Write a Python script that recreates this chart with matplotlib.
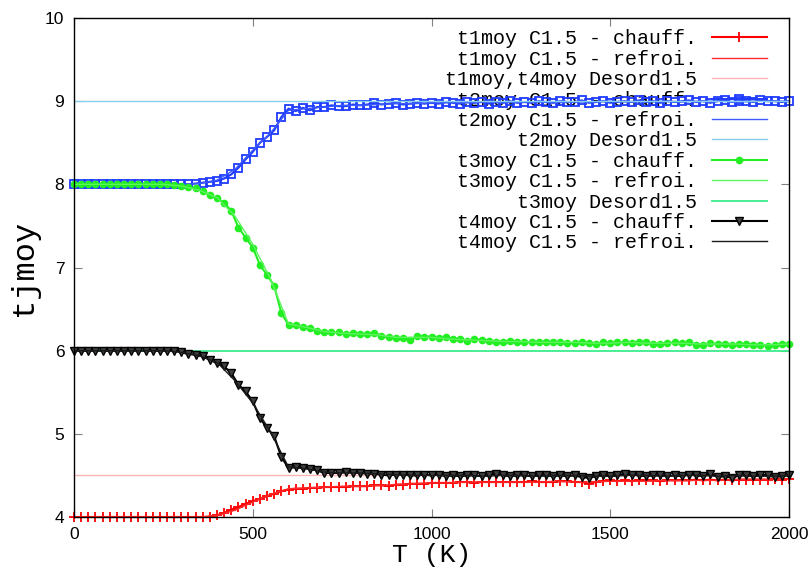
import numpy as np
import matplotlib
matplotlib.use("Agg")
import matplotlib.pyplot as plt
from matplotlib.font_manager import FontProperties

# temperature grids (heating sampled every 20 K, cooling every 50 K)
T_heat = np.arange(0, 2001, 20)
T_cool = np.arange(0, 2001, 50)

# heating runs (chauff.)
t1_chauff = [4.00] * 19 + [
    4.00, 4.02, 4.05, 4.09, 4.12, 4.16, 4.19, 4.22, 4.25, 4.28,
    4.31, 4.33, 4.34, 4.34, 4.35, 4.35, 4.36, 4.36, 4.36, 4.36,
    4.37, 4.37, 4.37, 4.38, 4.38, 4.37, 4.39, 4.39, 4.40, 4.40,
    4.40, 4.41, 4.41, 4.41, 4.41, 4.42, 4.42, 4.41, 4.42, 4.42,
    4.42, 4.42, 4.42, 4.42, 4.42, 4.43, 4.42, 4.42, 4.42, 4.43,
    4.43, 4.42, 4.42, 4.40, 4.42, 4.43, 4.44, 4.43, 4.44, 4.43,
    4.44, 4.44, 4.44, 4.43, 4.44, 4.44, 4.44, 4.44, 4.45, 4.44,
    4.45, 4.44, 4.45, 4.44, 4.45, 4.45, 4.45, 4.45, 4.45, 4.46,
    4.45, 4.46]

t2_chauff = [8.00] * 16 + [
    8.00, 8.01, 8.02, 8.03, 8.04, 8.07, 8.12, 8.20, 8.30, 8.39,
    8.50, 8.57, 8.65, 8.81, 8.91, 8.88, 8.92, 8.89, 8.93, 8.93,
    8.95, 8.94, 8.94, 8.96, 8.95, 8.96, 8.98, 8.96, 8.97, 8.98,
    8.96, 8.97, 8.98, 8.97, 8.98, 8.97, 8.99, 8.98, 8.97, 8.99,
    8.98, 8.99, 8.97, 8.99, 8.98, 9.00, 8.98, 8.99, 8.98, 9.00,
    8.99, 8.98, 9.00, 8.99, 8.99, 9.01, 8.98, 8.99, 9.00, 8.98,
    8.99, 9.00, 8.99, 9.01, 8.99, 9.00, 8.98, 9.00, 8.99, 9.00,
    9.01, 8.99, 9.00, 8.98, 9.00, 9.01, 8.99, 9.00, 9.00, 8.99,
    9.01, 9.00, 9.00, 8.99, 9.00]

t3_chauff = [8.00] * 14 + [
    7.99, 7.98, 7.97, 7.95, 7.92, 7.87, 7.83, 7.78, 7.68, 7.48,
    7.36, 7.24, 7.03, 6.91, 6.78, 6.45, 6.31, 6.31, 6.29, 6.27,
    6.24, 6.23, 6.22, 6.22, 6.20, 6.21, 6.20, 6.20, 6.21, 6.18,
    6.16, 6.15, 6.15, 6.13, 6.18, 6.17, 6.17, 6.15, 6.16, 6.14,
    6.14, 6.12, 6.14, 6.13, 6.12, 6.10, 6.11, 6.12, 6.11, 6.10,
    6.10, 6.10, 6.11, 6.10, 6.10, 6.09, 6.09, 6.10, 6.09, 6.08,
    6.10, 6.09, 6.10, 6.10, 6.09, 6.10, 6.11, 6.08, 6.08, 6.09,
    6.10, 6.09, 6.10, 6.07, 6.07, 6.09, 6.08, 6.08, 6.07, 6.08,
    6.08, 6.07, 6.07, 6.06, 6.07, 6.08, 6.08]

t4_chauff = [6.00] * 15 + [
    5.98, 5.96, 5.95, 5.93, 5.89, 5.85, 5.81, 5.73, 5.59, 5.51,
    5.39, 5.19, 5.07, 4.97, 4.72, 4.59, 4.60, 4.59, 4.58, 4.56,
    4.53, 4.53, 4.53, 4.54, 4.53, 4.53, 4.52, 4.52, 4.51, 4.50,
    4.51, 4.51, 4.50, 4.50, 4.51, 4.50, 4.51, 4.49, 4.50, 4.49,
    4.50, 4.50, 4.49, 4.50, 4.52, 4.50, 4.49, 4.50, 4.50, 4.49,
    4.50, 4.50, 4.49, 4.50, 4.49, 4.50, 4.48, 4.47, 4.49, 4.50,
    4.49, 4.50, 4.52, 4.51, 4.50, 4.49, 4.50, 4.50, 4.49, 4.50,
    4.49, 4.51, 4.50, 4.49, 4.52, 4.48, 4.49, 4.47, 4.50, 4.50,
    4.49, 4.51, 4.50, 4.48, 4.49, 4.50]

# cooling runs (refroi.)
t1_refroi = [4.00] * 8 + [
    4.02, 4.08, 4.18, 4.27, 4.34, 4.35, 4.36, 4.37, 4.37, 4.38,
    4.39, 4.40, 4.41, 4.41, 4.42, 4.42, 4.42, 4.42, 4.42, 4.43,
    4.42, 4.42, 4.43, 4.43, 4.43, 4.44, 4.44, 4.44, 4.44, 4.45,
    4.45, 4.45, 4.46]
t2_refroi = [8.00] * 7 + [
    8.01, 8.05, 8.18, 8.41, 8.62, 8.89, 8.91, 8.93, 8.95, 8.95,
    8.96, 8.97, 8.97, 8.98, 8.98, 8.98, 8.99, 8.98, 8.99, 8.99,
    8.98, 8.99, 8.99, 9.00, 8.99, 8.99, 9.00, 8.99, 9.00, 9.00,
    8.99, 9.00, 9.00, 9.00]
t3_refroi = [8.00] * 6 + [
    7.98, 7.93, 7.84, 7.62, 7.28, 6.86, 6.32, 6.28, 6.23, 6.21,
    6.20, 6.19, 6.16, 6.16, 6.16, 6.14, 6.13, 6.12, 6.11, 6.11,
    6.10, 6.10, 6.10, 6.09, 6.09, 6.10, 6.09, 6.09, 6.09, 6.08,
    6.08, 6.08, 6.07, 6.07, 6.08]
t4_refroi = [6.00] * 6 + [
    5.98, 5.94, 5.86, 5.64, 5.37, 5.02, 4.60, 4.58, 4.54, 4.53,
    4.53, 4.52, 4.51, 4.50, 4.50, 4.50, 4.50, 4.49, 4.50, 4.50,
    4.49, 4.50, 4.50, 4.49, 4.49, 4.50, 4.50, 4.49, 4.50, 4.50,
    4.49, 4.50, 4.49, 4.49, 4.50]

# disordered reference values
T_desord = [0, 2000]
t14_desord = 4.5
t2_desord = 9.0
t3_desord = 6.0

labels = ["t1moy C1.5 - chauff.", "t1moy C1.5 - refroi.", "t1moy,t4moy Desord1.5",
          "t2moy C1.5 - chauff.", "t2moy C1.5 - refroi.", "t2moy Desord1.5",
          "t3moy C1.5 - chauff.", "t3moy C1.5 - refroi.", "t3moy Desord1.5",
          "t4moy C1.5 - chauff.", "t4moy C1.5 - refroi."]
width = max(len(s) for s in labels)
labels = [s.rjust(width) for s in labels]   # right aligned like gnuplot keys

mono = "Liberation Mono"
sans = "Liberation Sans"

fig = plt.figure(figsize=(8.08, 5.70), dpi=100)
ax = fig.add_axes([0.0916, 0.093, 0.8849, 0.8754])

h = []
h += ax.plot(T_heat, t1_chauff, color="#ff0000", lw=1.5, marker="+", ms=7, mew=1.3, clip_on=False)
h += ax.plot(T_cool, t1_refroi, color="#ff2a2a", lw=1.0)
h += ax.plot(T_desord, [t14_desord] * 2, color="#ffb4b4", lw=1.0)
h += ax.plot(T_heat, t2_chauff, color="#1f3cff", lw=1.5, marker="s", ms=6, mfc="none", mew=1.3, clip_on=False)
h += ax.plot(T_cool, t2_refroi, color="#3c5aff", lw=1.0)
h += ax.plot(T_desord, [t2_desord] * 2, color="#87ceeb", lw=1.0)
h += ax.plot(T_heat, t3_chauff, color="#22ee22", lw=1.5, marker="o", ms=5.5, mew=0, clip_on=False)
h += ax.plot(T_cool, t3_refroi, color="#5cf55c", lw=1.0)
h += ax.plot(T_desord, [t3_desord] * 2, color="#3cec8c", lw=1.3)
h += ax.plot(T_heat, t4_chauff, color="#000000", lw=1.5, marker="v", ms=5.2, mfc="#404040", mew=1.0, clip_on=False)
h += ax.plot(T_cool, t4_refroi, color="#1a1a1a", lw=1.0)

ax.set_xlim(0, 2000)
ax.set_ylim(4, 10)
ax.set_xticks([0, 500, 1000, 1500, 2000])
ax.set_yticks([4, 5, 6, 7, 8, 9, 10])
ax.tick_params(direction="in", length=6, width=0.8, color="#808080",
               top=True, right=True, labelsize=12.5, pad=7)
for lab in ax.get_xticklabels() + ax.get_yticklabels():
    lab.set_family(sans)
for sp in ax.spines.values():
    sp.set_linewidth(1.0)

ax.set_xlabel("T (K)", family=mono, fontsize=19, labelpad=1)
ax.set_ylabel("tjmoy", family=mono, fontsize=23, labelpad=4)

leg = ax.legend(h, labels, loc="upper right", bbox_to_anchor=(0.969, 0.977),
                frameon=False, markerfirst=False, numpoints=1,
                prop=FontProperties(family=mono, size=14.4),
                labelspacing=0.07, handlelength=2.75, handletextpad=0.75,
                borderpad=0, borderaxespad=0)
leg.set_zorder(1)

fig.savefig("out.png", dpi=100)
